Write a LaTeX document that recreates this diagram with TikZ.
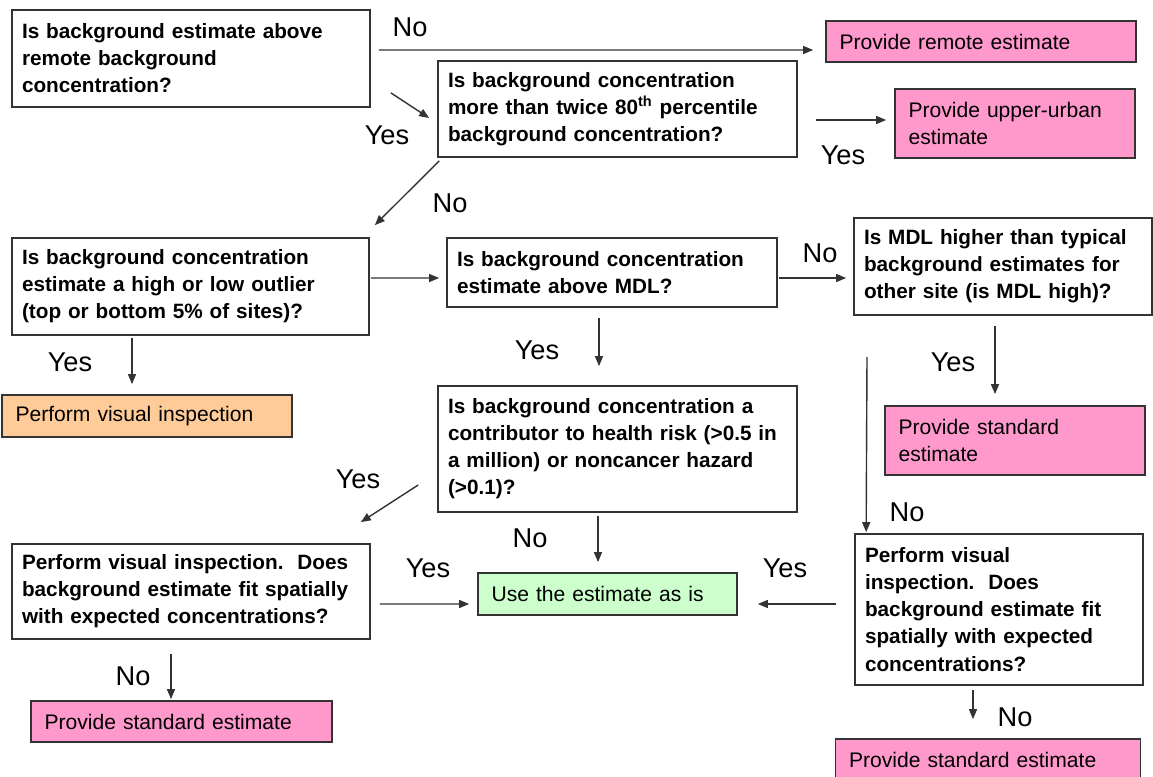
\documentclass[tikz,border=0pt]{standalone}
\usepackage{fontspec}
\setmainfont{Liberation Sans}
\usetikzlibrary{calc, arrows.meta, positioning}
\definecolor{fcpink}{HTML}{FF99CC}
\definecolor{fcorange}{HTML}{FFCC99}
\definecolor{fcgreen}{HTML}{CCFFCC}
\definecolor{fcedge}{HTML}{333333}
\hyphenpenalty=10000

\begin{document}
\begin{tikzpicture}[x=0.02cm, y=-0.02cm,
    box/.style={draw=fcedge, line width=1pt, inner xsep=0.27cm, inner ysep=2pt, align=left,
      font=\fontsize{12}{15.4}\selectfont},
    question/.style={box, fill=white, inner xsep=0.2cm, font=\fontsize{11.8}{15.4}\selectfont\bfseries},
    answer/.style={box, fill=fcpink},
    lbl/.style={font=\fontsize{15.5}{18}\selectfont, inner sep=0pt},
    arr/.style={-{Triangle[length=2mm,width=1.6mm]}, line width=0.8pt, fcedge}]
    \useasboundingbox (0,0) rectangle (1153,777);

    % Top row
    \node[question, text width=6.76cm, minimum height=1.94cm] (q1) at (191,58.5)
        {Is background estimate above\\ remote background\\ concentration?};
    \node[answer, text width=5.66cm, minimum height=0.82cm] (remote) at (981,41.5)
        {Provide remote estimate};
    \node[question, text width=6.78cm, minimum height=1.92cm] (q2) at (617.5,109)
        {Is background concentration\\ more than twice 80\textsuperscript{th} percentile\\ background concentration?};
    \node[answer, text width=4.26cm, minimum height=1.38cm] (upper) at (1015,123.5)
        {Provide upper-urban\\ estimate};

    % Middle row
    \node[question, text width=6.74cm, minimum height=1.94cm] (q3) at (190.5,286.5)
        {Is background concentration\\ estimate a high or low outlier\\ (top or bottom 5\% of sites)?};
    \node[box, fill=fcorange, text width=5.26cm, minimum height=0.84cm] (visinsp) at (147,416)
        {Perform visual inspection};
    \node[question, text width=6.20cm, minimum height=1.38cm] (q4) at (612,272.5)
        {Is background concentration\\ estimate above MDL?};
    \node[question, text width=5.56cm, minimum height=1.94cm] (q5) at (1003,266.5)
        {Is MDL higher than typical\\ background estimates for\\ other site (is MDL high)?};
    \node[answer, text width=4.66cm, minimum height=1.38cm] (std1) at (1015,440.5)
        {Provide standard\\ estimate};
    \node[question, text width=6.78cm, minimum height=2.52cm] (q6) at (617.5,449)
        {Is background concentration a\\ contributor to health risk (>0.5 in\\ a million) or noncancer hazard\\ (>0.1)?};

    % Bottom row
    \node[question, text width=6.76cm, minimum height=1.90cm] (q7) at (191,591.5)
        {Perform visual inspection.\ \ Does\\ background estimate fit spatially\\ with expected concentrations?};
    \node[box, fill=fcgreen, text width=4.64cm, minimum height=0.84cm] (use) at (607.5,594)
        {Use the estimate as is};
    \node[question, text width=5.36cm, minimum height=3.02cm] (q8) at (999,609.5)
        {Perform visual\\ inspection.\ \ Does\\ background estimate fit\\ spatially with expected\\ concentrations?};
    \node[answer, text width=5.48cm, minimum height=0.82cm] (std2) at (181.5,721.5)
        {Provide standard estimate};
    \node[answer, text width=5.56cm, minimum height=0.84cm] (std3) at (988,760)
        {Provide standard estimate};
    \coordinate (nostart) at (867,357);

    % Arrows
    \draw[arr] ($(q1.east)+(8,-8.5)$) -- ($(remote.west)+(-12,8.5)$);
    \draw[arr] ($(q1.south east)+(20,-15)$) -- ($(q2.west)+(-8,9)$);
    \draw[arr] ($(q2.east)+(18,11)$) -- ($(upper.west)+(-8,-3.5)$);
    \draw[arr] ($(q2.south west)+(2,3)$) -- ($(q3.north east)+(5,-12)$);
    \draw[arr] ($(q3.east)+(1,-8.5)$) -- ($(q4.west)+(-7,5.5)$);
    \draw[arr] ($(q3.south)+(-58.5,2)$) -- ($(visinsp.north)+(-15,-10)$);
    \draw[arr] ($(q4.east)+(1,5.5)$) -- ($(q5.west)+(-7,11.5)$);
    \draw[arr] ($(q4.south)+(-13,10)$) -- ($(q6.north)+(-18.5,-19)$);
    \draw[arr] ($(q5.south)+(-8,10)$) -- ($(std1.north)+(-20,-11)$);
    \draw[arr] (nostart) -- ($(q8.north west)+(12,-1)$);
    \draw[arr] ($(q6.south)+(-19.5,3)$) -- ($(use.north)+(-9.5,-10)$);
    \draw[arr] ($(q6.west)+(-19,36)$) -- ($(q7.north east)+(-10,-21)$);
    \draw[arr] ($(q7.east)+(9,12.5)$) -- ($(use.west)+(-8,10)$);
    \draw[arr] ($(q8.west)+(-18,-5.5)$) -- ($(use.east)+(20,10)$);
    \draw[arr] ($(q7.south)+(-20,14)$) -- ($(std2.north)+(-10.5,-1)$);
    \draw[arr] ($(q8.south)+(-26,4)$) -- ($(std3.north)+(-15,-19)$);

    % Yes / No labels
    \node[lbl] (lno1) at (410,27) {No};
    \node[lbl] (lyes1) at (387,135) {Yes};
    \node[lbl] (lyes2) at (843,155) {Yes};
    \node[lbl] (lno2) at (450,203) {No};
    \node[lbl] (lyes3) at (70,362) {Yes};
    \node[lbl] (lno3) at (820,253) {No};
    \node[lbl] (lyes4) at (537,350) {Yes};
    \node[lbl] (lyes5) at (953,362) {Yes};
    \node[lbl] (lno4) at (907,512) {No};
    \node[lbl] (lyes6) at (358,479) {Yes};
    \node[lbl] (lno5) at (530,538) {No};
    \node[lbl] (lyes7) at (428,568) {Yes};
    \node[lbl] (lyes8) at (785,568) {Yes};
    \node[lbl] (lno6) at (133,676) {No};
    \node[lbl] (lno7) at (1015,717) {No};
\end{tikzpicture}
\end{document}
